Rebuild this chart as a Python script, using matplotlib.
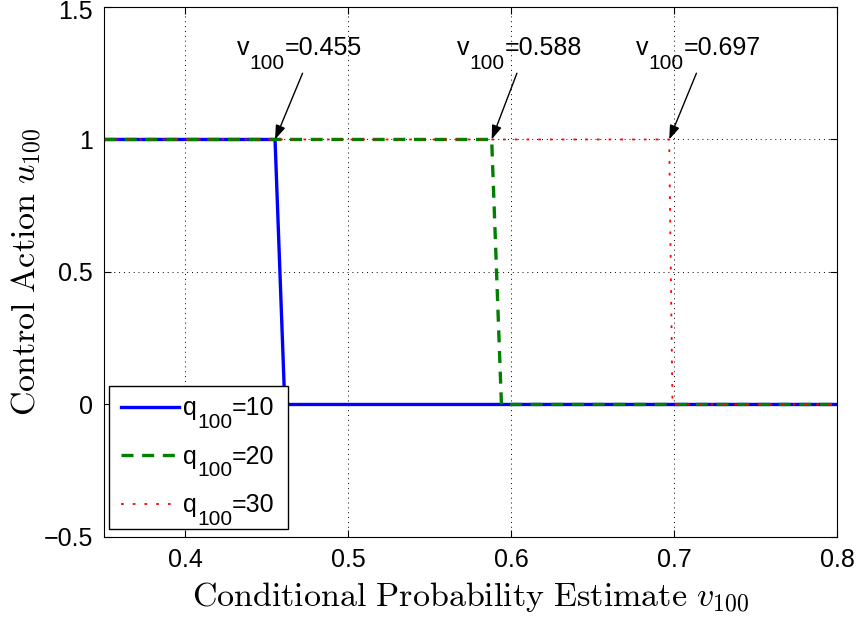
import matplotlib.pyplot as plt
import matplotlib.transforms as mtransforms
from matplotlib.ticker import FuncFormatter

plt.rcParams['font.family'] = ['Liberation Sans', 'DejaVu Sans']

# Step curves of the control action u_100 against v_100
v_q10 = [0.35, 0.455, 0.461, 0.8]
u_q10 = [1, 1, 0, 0]
v_q20 = [0.35, 0.588, 0.594, 0.8]
u_q20 = [1, 1, 0, 0]
v_q30 = [0.35, 0.697, 0.699, 0.8]
u_q30 = [1, 1, 0, 0]

q_values = [10, 20, 30]
thresholds = [0.455, 0.588, 0.697]
note_x = [0.4316, 0.5667, 0.6766]
tail_x = [0.4719, 0.6035, 0.7137]


def sub_text(ax, base, sub, rest, x, y, size=18, sub_size=15, drop=9):
    # text like "v_100=0.455" with a large, lowered subscript
    # x, y: (value, coords) pairs; y is the baseline reference
    kw = dict(annotation_clip=False, zorder=6)
    t1 = ax.annotate(base, xy=(x[0], y[0]), xycoords=(x[1], y[1]),
                     ha='left', va=y[2], fontsize=size, **kw)
    t2 = ax.annotate(sub, xy=(1, y[0]), xycoords=(t1, y[1]), xytext=(0, -drop),
                     textcoords='offset points', ha='left', va=y[2],
                     fontsize=sub_size, **kw)
    ax.annotate(rest, xy=(1, y[0]), xycoords=(t2, y[1]), ha='left', va=y[2],
                fontsize=size, **kw)


fig = plt.figure(figsize=(8.61, 6.17), dpi=100)
ax = fig.add_axes([0.1208, 0.1297, 0.8513, 0.859])

ax.plot(v_q10, u_q10, color='#0000ff', lw=2.4, label='q100=%d' % q_values[0])
ax.plot(v_q20, u_q20, color='#007f00', lw=2.4, ls=(0, (3.6, 2.6)),
        label='q100=%d' % q_values[1])
ax.plot(v_q30, u_q30, color='#ff0000', lw=1.3, ls=(0, (1.5, 5)),
        label='q100=%d' % q_values[2])

for t, tx, ax_tail in zip(thresholds, note_x, tail_x):
    sub_text(ax, 'v', '100', '=%.3f' % t, (tx, 'data'), (1.319, 'data', 'baseline'),
             drop=10)
    ax.annotate('', xy=(t, 1), xytext=(ax_tail, 1.25),
                arrowprops=dict(arrowstyle='-|>,head_length=0.85,head_width=0.3',
                                color='black', lw=1, shrinkA=0, shrinkB=0))

ax.set_xlim(0.35, 0.8)
ax.set_ylim(-0.5, 1.5)
ax.set_xticks([0.4, 0.5, 0.6, 0.7, 0.8])
ax.set_yticks([-0.5, 0, 0.5, 1, 1.5])
fmt = FuncFormatter(lambda v, p: ('%g' % v).replace('-', '\u2212'))
ax.xaxis.set_major_formatter(fmt)
ax.yaxis.set_major_formatter(fmt)
ax.tick_params(direction='in', top=True, right=True, labelsize=18, length=5, pad=8)
ax.grid(True, color='black', ls=(0, (1, 4)), lw=0.7)

ax.set_xlabel(r'$\mathrm{Conditional\ Probability\ Estimate}\ v_{100}$', fontsize=24.5,
              math_fontfamily='cm', labelpad=6)
ax.set_ylabel(r'$\mathrm{Control\ Action}\ u_{100}$', fontsize=24.5,
              math_fontfamily='cm', labelpad=0)

leg = ax.legend(loc='lower left', bbox_to_anchor=(0.0068, 0.015), borderaxespad=0,
                fontsize=17, fancybox=False, framealpha=1, edgecolor='black',
                handlelength=2.45, handletextpad=0.2, labelspacing=1.13,
                borderpad=0.5)
leg.get_frame().set_linewidth(1)

# legend labels: keep the box size, draw the subscripted text on top
for q, lt in zip(q_values, leg.get_texts()):
    lt.set_alpha(0)
    sub_text(ax, 'q', '100', '=%d' % q, (0, lt), (0, lt, 'bottom'), drop=8.5)

fig.canvas.draw()
top_label = ax.get_yticklabels()[-1]
top_label.set_transform(top_label.get_transform() +
                        mtransforms.ScaledTranslation(0, -3 / 100, fig.dpi_scale_trans))

fig.savefig('out.png', dpi=100)
